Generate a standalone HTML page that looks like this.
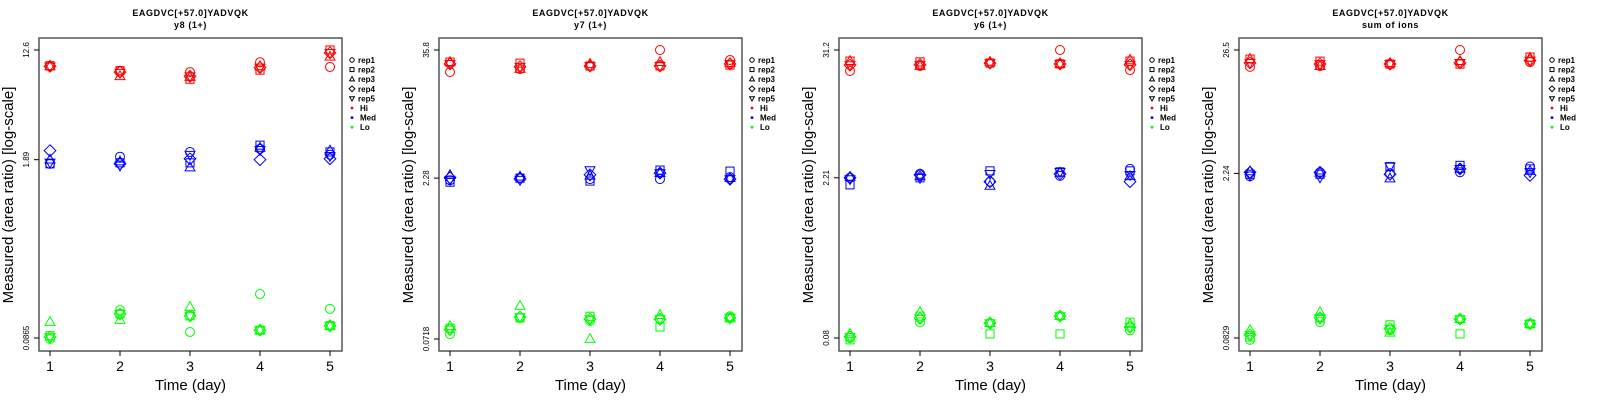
<!DOCTYPE html>
<html><head><meta charset="utf-8"><style>
body{margin:0;background:#fff;}
svg{display:block;font-family:"Liberation Sans",sans-serif;}
</style></head><body>
<svg id="chart" width="1600" height="400" xmlns="http://www.w3.org/2000/svg"></svg>
<script>
// Shared categories
const days = [1, 2, 3, 4, 5];
const reps = ["rep1", "rep2", "rep3", "rep4", "rep5"];
const levels = ["Hi", "Med", "Lo"];
const panelTitles = ["y8 (1+)", "y7 (1+)", "y6 (1+)", "sum of ions"];
const peptide = "EAGDVC[+57.0]YADVQK";
// tick labels per panel [top, mid, bottom]
const tickLabels = [["12.6","1.89","0.0865"],["35.8","2.28","0.0718"],["31.2","2.21","0.08"],["26.5","2.24","0.0829"]];
const tickValues = [[12.6,1.89,0.0865],[35.8,2.28,0.0718],[31.2,2.21,0.08],[26.5,2.24,0.0829]];
// data: [rep][day]
const y8Hi = [[9.5,8.8,8.6,10.2,9.4],[9.6,8.8,7.6,8.9,12.6],[9.5,8.0,7.9,9.5,11.2],[9.5,8.6,8.0,9.3,12.0],[9.5,8.5,8.0,9.3,12.0]];
const y8Med = [[1.76,1.99,2.16,2.28,2.06],[1.76,1.79,1.79,2.43,2.16],[1.89,1.83,1.65,2.32,2.21],[2.21,1.76,1.92,1.89,1.92],[1.80,1.71,2.06,2.24,2.02]];
const y8Lo = [[0.085,0.140,0.096,0.185,0.143],[0.090,0.131,0.127,0.099,0.107],[0.114,0.118,0.148,0.099,0.107],[0.088,0.131,0.127,0.099,0.107],[0.088,0.131,0.127,0.099,0.107]];
const y7Hi = [[22.3,23.8,25.4,35.8,28.9],[27.6,27.0,25.4,25.4,25.9],[27.6,23.8,26.5,27.6,27.0],[26.6,25.0,25.4,25.4,26.5],[26.6,25.0,25.4,25.4,26.5]];
const y7Med = [[2.18,2.28,2.23,2.23,2.33],[2.09,2.28,2.14,2.71,2.65],[2.43,2.35,2.40,2.54,2.28],[2.30,2.25,2.45,2.54,2.23],[2.20,2.20,2.71,2.54,2.23]];
const y7Lo = [[0.0799,0.113,0.106,0.110,0.117],[0.0907,0.113,0.117,0.093,0.113],[0.0947,0.146,0.0718,0.120,0.113],[0.088,0.115,0.110,0.110,0.113],[0.088,0.115,0.110,0.110,0.113]];
const y6Hi = [[20.2,22.4,23.8,31.2,20.6],[24.8,24.4,23.8,23.4,24.8],[24.8,22.4,24.4,23.4,25.4],[22.8,23.0,23.8,23.4,23.0],[22.8,23.0,23.8,23.4,23.0]];
const y6Med = [[2.21,2.40,2.04,2.30,2.66],[1.91,2.21,2.55,2.50,2.55],[2.25,2.28,1.87,2.45,2.28],[2.21,2.35,2.04,2.40,2.04],[2.15,2.21,2.40,2.50,2.35]];
const y6Lo = [[0.080,0.111,0.109,0.126,0.094],[0.077,0.126,0.087,0.087,0.111],[0.087,0.137,0.109,0.126,0.107],[0.082,0.120,0.109,0.126,0.100],[0.082,0.120,0.109,0.126,0.100]];
const sumHi = [[18.9,19.2,20.0,26.5,20.8],[22.1,21.2,20.0,20.0,23.0],[22.1,19.2,20.3,21.2,22.6],[20.5,20.0,20.0,20.5,21.5],[20.5,20.0,20.0,20.5,21.5]];
const sumMed = [[2.11,2.29,2.24,2.29,2.57],[2.20,2.20,2.57,2.63,2.45],[2.33,2.27,2.02,2.45,2.35],[2.29,2.29,2.20,2.45,2.15],[2.15,2.07,2.57,2.45,2.30]];
const sumLo = [[0.080,0.114,0.097,0.121,0.110],[0.0846,0.124,0.108,0.090,0.110],[0.097,0.139,0.092,0.121,0.110],[0.088,0.124,0.100,0.121,0.110],[0.088,0.124,0.100,0.121,0.110]];
const panelData = [[y8Hi,y8Med,y8Lo],[y7Hi,y7Med,y7Lo],[y6Hi,y6Med,y6Lo],[sumHi,sumMed,sumLo]];

const NS = "http://www.w3.org/2000/svg";
const svg = document.getElementById("chart");
const colors = ["#ff0000","#0000ff","#00ff00"];
function mk(tag, attrs, parent){const e=document.createElementNS(NS,tag);for(const k in attrs)e.setAttribute(k,attrs[k]);(parent||svg).appendChild(e);return e;}

function marker(g, rep, cx, cy, col, s){
  const a={fill:"none",stroke:col,"stroke-width":1};
  let e;
  if(rep===0){e=mk("circle",Object.assign({cx:cx,cy:cy,r:s},a),g);}
  else if(rep===1){e=mk("rect",Object.assign({x:cx-s*0.9,y:cy-s*0.9,width:s*1.8,height:s*1.8},a),g);}
  else if(rep===2){e=mk("polygon",Object.assign({points:`${cx},${cy-s*1.2} ${cx-s*1.1},${cy+s*0.75} ${cx+s*1.1},${cy+s*0.75}`},a),g);}
  else if(rep===3){e=mk("polygon",Object.assign({points:`${cx},${cy-s*1.3} ${cx+s*1.3},${cy} ${cx},${cy+s*1.3} ${cx-s*1.3},${cy}`},a),g);}
  else {e=mk("polygon",Object.assign({points:`${cx},${cy+s*1.2} ${cx-s*1.1},${cy-s*0.75} ${cx+s*1.1},${cy-s*0.75}`},a),g);}
  return e;
}

for(let p=0;p<4;p++){
  const off=p*400;
  const L=off+(p===1?39:39), R=L+303, T=38, B=351;
  const bx=L+(p===1?0:0);
  const g=mk("g",{});
  
  
  const x0=L+11, x1=L+291;
  const xS=d=>x0+(d-1)/(4)*(x1-x0);
  const yTop=50, yBot=p===1?339:338;
  const lt=Math.log(tickValues[p][0]), lb=Math.log(tickValues[p][2]);
  const yS=v=>yTop+(lt-Math.log(v))/(lt-lb)*(yBot-yTop);
  // titles
  const t1=mk("text",{x:(L+R)/2,y:16,"text-anchor":"middle","font-size":9,"font-weight":"bold","letter-spacing":"0.6"},g);t1.textContent=peptide;
  
  const t2=mk("text",{x:(L+R)/2,y:28,"text-anchor":"middle","font-size":9,"font-weight":"bold","letter-spacing":"0.6"},g);t2.textContent=panelTitles[p];
  
  // box
  const box=mk("rect",{x:L,y:T,width:R-L,height:B-T,fill:"none",stroke:"#555","stroke-width":1.5},g);
  
  // x ticks
  days.forEach(d=>{
    const x=xS(d);
    mk("line",{x1:x,y1:B,x2:x,y2:B+5,stroke:"#000","stroke-width":1},g);
    const t=mk("text",{x:x,y:371,"text-anchor":"middle","font-size":14},g);t.textContent=d;
    
  });
  const xt=mk("text",{x:(L+R)/2,y:390,"text-anchor":"middle","font-size":15},g);xt.textContent="Time (day)";
  
  // y ticks
  tickValues[p].forEach((v,i)=>{
    const y=yS(v);
    mk("line",{x1:L-5,y1:y,x2:L,y2:y,stroke:"#000","stroke-width":1},g);
    const t=mk("text",{x:L-10,y:y,"text-anchor":"middle","font-size":8,transform:`rotate(-90 ${L-10} ${y})`},g);t.textContent=tickLabels[p][i];
    
  });
  const yt=mk("text",{x:L-26,y:195,"text-anchor":"middle","font-size":15,transform:`rotate(-90 ${L-26} 195)`},g);yt.textContent="Measured (area ratio) [log-scale]";
  
  // points
  levels.forEach((lv,li)=>{
    const series=panelData[p][li];
    series.forEach((row,ri)=>{
      row.forEach((v,di)=>{
        const m=marker(g,ri,xS(days[di]),yS(v),colors[li],4.5);
        
        
      });
    });
  });
  // legend
  const lg=mk("g",{},g);
  
  const lx=R+10;
  reps.forEach((r,i)=>{
    const y=60+i*9.6;
    const m=marker(lg,i,lx,y,"#000",2.2);
    
    const t=mk("text",{x:lx+6,y:y+3,"font-size":8,"font-weight":"bold"},lg);t.textContent=r;
    
  });
  levels.forEach((lv,i)=>{
    const y=60+(5+i)*9.6;
    const c=mk("circle",{cx:lx,cy:y,r:1.4,fill:colors[i]},lg);
    
    const t=mk("text",{x:lx+8,y:y+3,"font-size":8,"font-weight":"bold"},lg);t.textContent=lv;
    
  });
}
</script>
</body></html>
